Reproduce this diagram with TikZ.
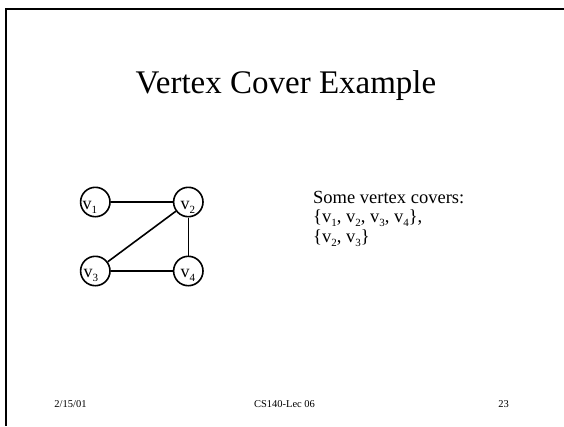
\documentclass[tikz,border=0pt]{standalone}
\usepackage{fontspec}
\setmainfont{Liberation Serif}
% lowered small index, as used for vertex names
\newcommand\vidx[1]{\raisebox{-4pt}{\fontsize{11}{12}\selectfont #1}}
\begin{document}
\begin{tikzpicture}[x=1pt,y=-1pt,
  vert/.style={circle,draw,line width=1.6pt,minimum size=29.4pt,inner sep=0pt},
  vlabel/.style={anchor=base west,inner sep=0pt,font=\fontsize{18}{20}\selectfont},
  edge/.style={line width=1.6pt},
  body/.style={anchor=base west,inner sep=0pt,font=\fontsize{18.5}{20}\selectfont},
  foot/.style={anchor=base,inner sep=0pt,font=\fontsize{10.5}{12}\selectfont}]
\useasboundingbox (0,0) rectangle (564,426);
% slide frame (top and left edges)
\draw[line width=2pt] (564,9) -- (6.3,9) -- (6.3,426);
% title
\node[anchor=base,inner sep=0pt,font=\fontsize{33}{38}\selectfont] (title) at (286,93) {Vertex Cover Example};
% graph
\node[vert] (v1) at (95.3,202) {};
\node[vert] (v2) at (188.3,202) {};
\node[vert] (v3) at (95.3,271) {};
\node[vert] (v4) at (188.3,271) {};
\node[vlabel] (l1) at ([xshift=-13pt,yshift=-7pt]v1.center) {v\vidx{1}};
\node[vlabel] (l2) at ([xshift=-8pt,yshift=-7pt]v2.center) {v\vidx{2}};
\node[vlabel] (l3) at ([xshift=-12pt,yshift=-6pt]v3.center) {v\vidx{3}};
\node[vlabel] (l4) at ([xshift=-8pt,yshift=-6pt]v4.center) {v\vidx{4}};
\draw[edge] (v1) -- (v2);
\draw[edge] (v2) -- (v4);
\draw[edge] (v3) -- (v4);
\draw[edge] (v2) -- (v3);
% covers list
\node[body] (c1) at (313,203) {Some vertex covers:};
\node[body] (c2) at (313,222.5) {\{v\vidx{1}, v\vidx{2}, v\vidx{3}, v\vidx{4}\},};
\node[body] (c3) at (313,242) {\{v\vidx{2}, v\vidx{3}\}};
% footer
\node[foot] (date) at (70.5,407) {2/15/01};
\node[foot] (course) at (284.5,407) {CS140-Lec 06};
\node[foot] (page) at (503.5,407) {23};
\end{tikzpicture}
\end{document}
